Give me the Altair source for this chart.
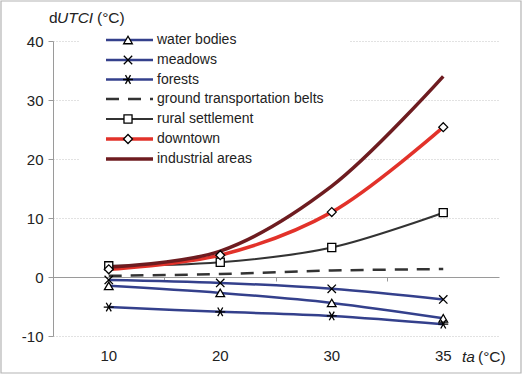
import altair as alt
import pandas as pd

# Air temperature categories (x) and dUTCI per land-use class (y)
ta_values = ["10", "20", "30", "35"]
series_names = [
    "water bodies",
    "meadows",
    "forests",
    "ground transportation belts",
    "rural settlement",
    "downtown",
    "industrial areas",
]
water_bodies = [-1.5, -2.7, -4.4, -7.0]
meadows = [-0.5, -1.0, -2.0, -3.8]
forests = [-5.1, -5.9, -6.6, -8.0]
ground_transport = [0.2, 0.5, 1.1, 1.35]
rural_settlement = [1.9, 2.5, 5.0, 10.9]
downtown = [1.3, 3.7, 11.0, 25.4]
industrial_areas = [1.7, 4.4, 15.4, 34.0]

y_ticks = [-10, 0, 10, 20, 30, 40]

all_values = [water_bodies, meadows, forests, ground_transport,
              rural_settlement, downtown, industrial_areas]
rows = []
for name, vals in zip(series_names, all_values):
    for t, v in zip(ta_values, vals):
        rows.append({"ta": t, "series": name, "dutci": v})
df = pd.DataFrame(rows)

FONT = "Liberation Sans"
BLUE = "#34408c"
DARK = "#333333"
RED = "#e2322a"
MAROON = "#6e1c20"

# line style per series: colour, width, dash, marker shape, marker size
ASTERISK = "M-1,0L1,0M-0.5,-0.87L0.5,0.87M-0.5,0.87L0.5,-0.87"
XMARK = "M-0.8,-0.8L0.8,0.8M-0.8,0.8L0.8,-0.8"
styles = {
    "water bodies": (BLUE, 2.5, [], "triangle-up", 75),
    "meadows": (BLUE, 2.5, [], XMARK, 110),
    "forests": (BLUE, 2.5, [], ASTERISK, 100),
    "ground transportation belts": (DARK, 2.5, [13, 9], None, 0),
    "rural settlement": (DARK, 2.0, [], "square", 65),
    "downtown": (RED, 3.5, [], "diamond", 80),
    "industrial areas": (MAROON, 3.5, [], None, 0),
}

W, H = 446, 295
x_scale = alt.Scale(type="band", domain=ta_values, paddingInner=0, paddingOuter=0)
y_scale = alt.Scale(domain=[-10, 40], nice=False, zero=False)

x_plain = alt.X("ta:O", sort=ta_values, scale=x_scale, axis=None)

y_axis_def = alt.Axis(title=None, values=y_ticks, labelExpr="'' + datum.value",
                      domainColor="#9a9a9a", tickColor="#9a9a9a", tickSize=5,
                      labelFont=FONT, labelFontSize=15, labelColor="#222222",
                      labelPadding=5, grid=True, gridColor="#c4c4c4",
                      gridDash=[1, 2])
y_enc = alt.Y("dutci:Q", scale=y_scale, axis=y_axis_def)

# category labels along the bottom edge
x_labels = alt.X(
    "ta:O", sort=ta_values, scale=x_scale,
    axis=alt.Axis(title=None, orient="bottom", domain=False, ticks=False,
                  labelAngle=0, labelFont=FONT, labelFontSize=15,
                  labelColor="#222222", labelPadding=12),
)
# zero line with category separator ticks
x_zero = alt.X(
    "ta:O", sort=ta_values, scale=x_scale,
    axis=alt.Axis(title=None, orient="bottom", labels=False, domain=True,
                  domainColor="#9a9a9a", ticks=True, tickColor="#9a9a9a",
                  tickSize=4, bandPosition=0, tickExtra=True, offset=-59,
                  grid=False),
)

labels_layer = alt.Chart(df).mark_point(opacity=0).encode(x=x_labels, y=y_enc)
zero_layer = alt.Chart(df).mark_point(opacity=0).encode(x=x_zero, y=y_enc)

layers = [labels_layer, zero_layer]

# outer frame
layers.append(
    alt.Chart(pd.DataFrame({"f": [0]})).mark_rect(
        fill=None, stroke="#b4b4b4", strokeWidth=1.2
    ).encode(x=alt.value(-52), x2=alt.value(468), y=alt.value(-40), y2=alt.value(332))
)
# white legend box
layers.append(
    alt.Chart(pd.DataFrame({"f": [0]})).mark_rect(fill="white").encode(
        x=alt.value(27), x2=alt.value(297), y=alt.value(-13), y2=alt.value(128))
)

for name in series_names:
    color, width, dash, shape, size = styles[name]
    line_kw = dict(color=color, strokeWidth=width, interpolate="catmull-rom")
    if dash:
        line_kw["strokeDash"] = dash
    layers.append(
        alt.Chart(df).transform_filter(alt.datum.series == name)
        .mark_line(**line_kw).encode(x=x_plain, y=y_enc)
    )
for name in series_names:
    color, width, dash, shape, size = styles[name]
    if shape:
        layers.append(
            alt.Chart(df).transform_filter(alt.datum.series == name)
            .mark_point(shape=shape, size=size, filled=True, fill="white",
                        stroke="black", strokeWidth=1.3, opacity=1)
            .encode(x=x_plain, y=y_enc)
        )

# legend rows
legend_y = [-1, 19, 38.5, 58, 78, 98, 118]
for name, ly in zip(series_names, legend_y):
    color, width, dash, shape, size = styles[name]
    one = pd.DataFrame({"series": [name]})
    rule_kw = dict(color=color, strokeWidth=width)
    if dash:
        rule_kw["strokeDash"] = dash
    layers.append(
        alt.Chart(one).mark_rule(**rule_kw).encode(
            x=alt.value(53), x2=alt.value(100), y=alt.value(ly))
    )
    if shape:
        layers.append(
            alt.Chart(one).mark_point(shape=shape, size=size, filled=True,
                                      fill="white", stroke="black",
                                      strokeWidth=1.3, opacity=1)
            .encode(x=alt.value(75), y=alt.value(ly))
        )
    layers.append(
        alt.Chart(one).mark_text(align="left", baseline="middle", font=FONT,
                                 fontSize=14, color="#222222")
        .encode(x=alt.value(104), y=alt.value(ly), text="series:N")
    )

# axis titles with italic variable names
def title_piece(txt, x, y, italic=False):
    kw = dict(align="left", baseline="middle", font=FONT, fontSize=15.5,
              color="#222222")
    if italic:
        kw["fontStyle"] = "italic"
    return alt.Chart(pd.DataFrame({"t": [txt]})).mark_text(**kw).encode(
        x=alt.value(x), y=alt.value(y), text="t:N")

layers += [
    title_piece("d", -4, -23),
    title_piece("UTCI", 4, -23, italic=True),
    title_piece("(°C)", 44, -23),
    title_piece("ta", 409, 316, italic=True),
    title_piece("(°C)", 425, 316),
]

chart = (
    alt.layer(*layers)
    .resolve_axis(x="independent")
    .properties(
        width=W, height=H,
        autosize=alt.AutoSizeParams(type="none"),
        padding={"left": 53, "top": 41, "right": 24, "bottom": 39},
        background="white",
    )
    .configure_view(stroke=None)
)

chart.save("out.html", embed_options={"renderer": "svg", "actions": False})
